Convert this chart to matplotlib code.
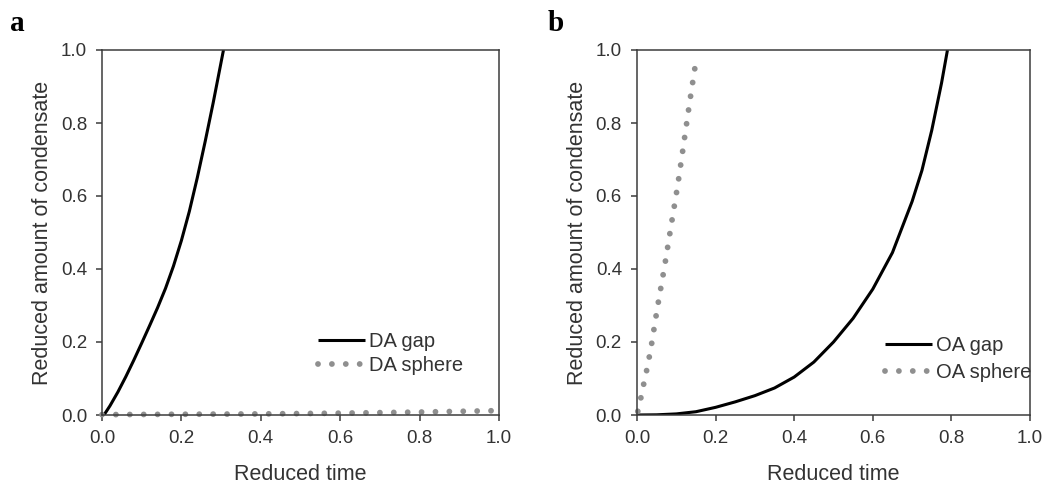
import matplotlib
matplotlib.use('Agg')
import matplotlib.pyplot as plt
from matplotlib.ticker import FormatStrFormatter, MultipleLocator

# values
da_gap_x = [0.005, 0.02, 0.04, 0.06, 0.08, 0.10, 0.12, 0.14, 0.16, 0.18,
            0.20, 0.22, 0.24, 0.26, 0.28, 0.306]
da_gap_y = [0.0, 0.025, 0.063, 0.105, 0.15, 0.197, 0.245, 0.294, 0.347,
            0.408, 0.478, 0.558, 0.65, 0.75, 0.855, 1.0]
da_sphere_x = [0.0, 0.2, 0.4, 0.6, 0.8, 1.0]
da_sphere_y = [0.001, 0.002, 0.003, 0.005, 0.008, 0.012]

oa_gap_x = [0.0, 0.05, 0.10, 0.15, 0.20, 0.25, 0.30, 0.35, 0.40, 0.45,
            0.50, 0.55, 0.60, 0.65, 0.70, 0.725, 0.75, 0.775, 0.79]
oa_gap_y = [0.0, 0.0005, 0.003, 0.009, 0.021, 0.036, 0.053, 0.074, 0.104,
            0.145, 0.20, 0.265, 0.345, 0.445, 0.585, 0.67, 0.78, 0.91, 1.0]
oa_sphere_x = [0.002, 0.008, 0.012, 0.022, 0.035, 0.052, 0.07, 0.087,
               0.104, 0.119, 0.134, 0.15]
oa_sphere_y = [0.01, 0.035, 0.061, 0.108, 0.18, 0.295, 0.406, 0.52,
               0.632, 0.744, 0.857, 0.97]

panels = [
    ('a', 'DA gap', 'DA sphere', da_gap_x, da_gap_y, da_sphere_x, da_sphere_y),
    ('b', 'OA gap', 'OA sphere', oa_gap_x, oa_gap_y, oa_sphere_x, oa_sphere_y),
]

plt.rcParams['font.family'] = ['Liberation Sans', 'DejaVu Sans']

W, H = 1049, 484
fig = plt.figure(figsize=(W / 100, H / 100), dpi=100)

# axes boxes in pixels: left, right, top, bottom
boxes = [(102, 499, 50, 415), (637, 1030, 50, 415)]
legend_pos = [((318 - 102) / 397, 0.168, 0.25), ((885 - 637) / 393, 0.153, 0.42)]
letter_x = [10, 548]

spine_col = '#3c3c3c'
text_col = '#333333'
dot_lw = 4.2
dots = (0, (0.001, 10.0 / dot_lw))

for (tag, lab1, lab2, gx, gy, sx, sy), (l, r, t, b), (lx, ly, lsp), tx in zip(
        panels, boxes, legend_pos, letter_x):
    ax = fig.add_axes([l / W, 1 - b / H, (r - l) / W, (b - t) / H])
    ax.plot(gx, gy, color='black', lw=2.2, label=lab1, solid_capstyle='butt')
    ax.plot(sx, sy, color='#8f8f8f', lw=dot_lw, linestyle=dots,
            dash_capstyle='round', label=lab2, clip_on=False)

    ax.set_xlim(0, 1)
    ax.set_ylim(0, 1)
    ax.xaxis.set_major_locator(MultipleLocator(0.2))
    ax.yaxis.set_major_locator(MultipleLocator(0.2))
    ax.xaxis.set_major_formatter(FormatStrFormatter('%.1f'))
    ax.yaxis.set_major_formatter(FormatStrFormatter('%.1f'))
    ax.tick_params(direction='out', length=4.3, width=1.1, color=spine_col,
                   labelsize=13.5, labelcolor=text_col, pad=6.5)
    for sp in ax.spines.values():
        sp.set_color(spine_col)
        sp.set_linewidth(1.1)

    ax.set_xlabel('Reduced time', fontsize=15.5, color=text_col)
    ax.set_ylabel('Reduced amount of condensate', fontsize=15.5, color=text_col)
    ax.xaxis.set_label_coords(0.5, -0.135)
    ax.yaxis.set_label_coords(-0.124, 0.5)

    ax.legend(loc='center left', bbox_to_anchor=(lx, ly), frameon=False,
              fontsize=14.5, handlelength=2.35, handletextpad=0.2,
              borderpad=0, borderaxespad=0, labelspacing=lsp, labelcolor=text_col)

    fig.text(tx / W, 1 - 31 / H, tag, fontfamily='Liberation Serif',
             fontweight='bold', fontsize=21, va='baseline', ha='left')

fig.savefig('out.png', dpi=100)
